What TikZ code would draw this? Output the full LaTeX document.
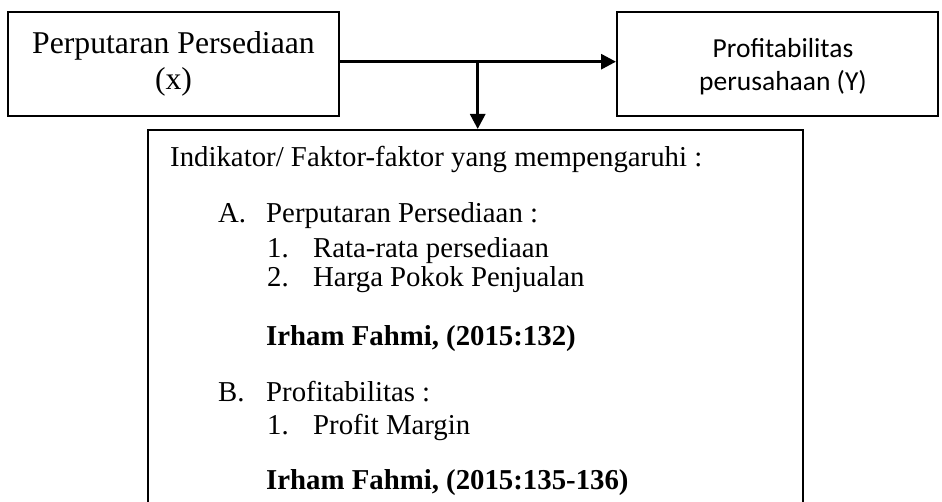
\documentclass[tikz,border=0pt]{standalone}
\usepackage{fontspec}
\setmainfont{Liberation Serif}
\newfontfamily\calib{Carlito}
\usetikzlibrary{arrows.meta}
\begin{document}
\begin{tikzpicture}[x=1pt,y=-1pt,
  boxstyle/.style={draw,line width=2pt,inner sep=0pt},
  arr/.style={line width=3pt,-{Triangle[width=15pt,length=15pt]}},
  bigtxt/.style={font=\fontsize{31.7}{37}\selectfont,inner sep=0pt},
  ytxt/.style={font=\calib\fontsize{27.5}{34}\selectfont,inner sep=0pt},
  itxt/.style={font=\fontsize{28.8}{33}\selectfont,inner sep=0pt,anchor=base west},
  btxt/.style={font=\bfseries\fontsize{28.8}{33}\selectfont,inner sep=0pt,anchor=base west}]
\useasboundingbox (0,0) rectangle (942,502);
\clip (0,0) rectangle (942,502);
% boxes
\node[boxstyle,minimum width=331pt,minimum height=104pt] (b1) at (173.5,64) {};
\node[boxstyle,minimum width=321pt,minimum height=104pt] (b2) at (777.5,64) {};
\node[boxstyle,minimum width=655pt,minimum height=400pt] (b3) at (475.5,330) {};
% box 1 text
\node[bigtxt,anchor=base] (t1a) at (173.5,53.3) {Perputaran Persediaan};
\node[bigtxt,anchor=base] (t1b) at (173.5,90) {(x)};
% box 2 text
\node[ytxt,anchor=base] (t2a) at (783,57.3) {Profitabilitas};
\node[ytxt,anchor=base] (t2b) at (783,90.7) {perusahaan (Y)};
% box 3 text
\node[itxt] (l0) at (170,166.7) {Indikator/ Faktor-faktor yang mempengaruhi :};
\node[itxt] (la) at (218,222.7) {A.};
\node[itxt] (lat) at (266,222.7) {Perputaran Persediaan :};
\node[itxt] (l1) at (267,258) {1.};
\node[itxt] (l1t) at (313,258) {Rata-rata persediaan};
\node[itxt] (l2) at (267,286.7) {2.};
\node[itxt] (l2t) at (313,286.7) {Harga Pokok Penjualan};
\node[btxt] (r1) at (266,345.7) {Irham Fahmi, (2015:132)};
\node[itxt] (lb) at (218,401) {B.};
\node[itxt] (lbt) at (266,401) {Profitabilitas :};
\node[itxt] (l3) at (267,434.3) {1.};
\node[itxt] (l3t) at (313,434.3) {Profit Margin};
\node[btxt] (r2) at (266,489.3) {Irham Fahmi, (2015:135-136)};
% connectors
\coordinate (j) at (477.7,61.7);
\draw[arr] (b1.east |- j) -- (b2.west |- j);
\draw[arr] (j) -- (j |- b3.north);
\end{tikzpicture}
\end{document}
